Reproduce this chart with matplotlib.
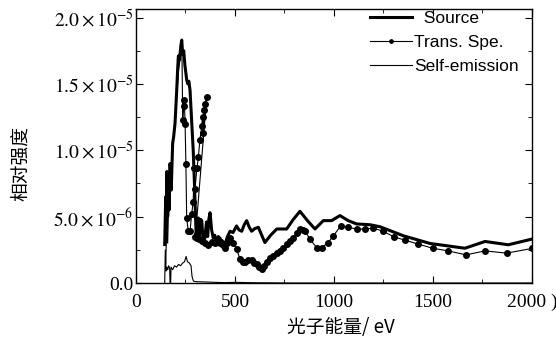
import numpy as np
import matplotlib.pyplot as plt
from matplotlib.ticker import MultipleLocator, FixedLocator

plt.rcParams['mathtext.fontset'] = 'stix'

# Source spectrum (eV, relative intensity)
src_e = [145, 150, 153, 156, 160, 163, 167, 172, 178, 185, 190, 197, 205, 210,
         214, 220, 226, 231, 236, 241, 247, 252, 256, 262, 267, 273, 280, 289,
         294, 298, 303, 306, 310, 315, 320, 326, 332, 340, 348, 356, 362, 368,
         374, 382, 390, 398, 407, 416, 425, 435, 449, 462, 475, 490, 508, 520,
         534, 547, 559, 572, 584, 600, 618, 635, 651, 680, 711, 761, 795, 828,
         866, 904, 946, 988, 1030, 1072, 1114, 1182, 1232, 1350, 1485, 1661,
         1763, 1880, 2000]
src_i = [2.9e-6, 6.5e-6, 4.0e-6, 8.4e-6, 5.0e-6, 7.5e-6, 5.5e-6, 9.0e-6, 7.0e-6,
         1.05e-5, 1.1e-5, 1.2e-5, 1.43e-5, 1.6e-5, 1.71e-5, 1.68e-5, 1.78e-5,
         1.83e-5, 1.72e-5, 1.75e-5, 1.64e-5, 1.58e-5, 1.53e-5, 1.50e-5, 1.52e-5,
         1.45e-5, 1.25e-5, 1.0e-5, 8.0e-6, 6.2e-6, 4.0e-6, 3.2e-6, 4.5e-6, 4.9e-6,
         3.5e-6, 4.8e-6, 4.7e-6, 3.0e-6, 3.4e-6, 4.6e-6, 3.5e-6, 4.8e-6, 5.3e-6,
         4.0e-6, 3.4e-6, 3.6e-6, 3.0e-6, 3.5e-6, 3.1e-6, 3.2e-6, 2.9e-6, 3.5e-6,
         3.9e-6, 3.8e-6, 4.3e-6, 4.0e-6, 3.9e-6, 4.4e-6, 4.7e-6, 4.2e-6, 3.9e-6,
         4.1e-6, 4.2e-6, 3.6e-6, 3.05e-6, 3.6e-6, 4.07e-6, 4.07e-6, 4.8e-6,
         5.4e-6, 4.7e-6, 4.07e-6, 4.7e-6, 4.7e-6, 5.08e-6, 4.7e-6, 4.45e-6,
         4.39e-6, 4.24e-6, 3.56e-6, 2.98e-6, 2.62e-6, 3.13e-6, 2.88e-6, 3.31e-6]

# Transmitted spectrum
trn_e = [150, 155, 160, 165, 175, 185, 195, 205, 215, 225, 232,
         236, 240, 244, 248, 252, 256, 264, 273, 281, 289, 293, 298, 308, 315,
         323, 332, 336, 340, 345, 349, 357, 300, 306, 320, 332, 350, 366, 383,
         399, 412, 424, 437, 449, 462, 475, 490, 508, 525, 538, 550, 566, 584,
         597, 609, 622, 635, 648, 660, 677, 694, 710, 727, 744, 761, 778, 795,
         811, 828, 841, 854, 879, 912, 938, 971, 997, 1034, 1072, 1114, 1156,
         1199, 1249, 1303, 1358, 1426, 1498, 1577, 1667, 1763, 1872, 1998]
trn_i = [1.5e-6, 4.0e-6, 3.0e-6, 6.0e-6, 8.0e-6, 1.0e-5, 1.2e-5, 1.4e-5, 1.6e-5,
         1.72e-5, 1.75e-5,
         1.23e-5, 1.33e-5, 1.38e-5, 1.2e-5, 9.0e-6, 4.9e-6, 3.9e-6, 3.9e-6,
         5.2e-6, 6.1e-6, 8.7e-6, 7.1e-6, 8.7e-6, 9.5e-6, 1.08e-5, 1.18e-5,
         1.25e-5, 1.13e-5, 1.3e-5, 1.35e-5, 1.4e-5, 3.5e-6, 3.7e-6, 3.3e-6,
         3.2e-6, 3.0e-6, 2.9e-6, 3.1e-6, 3.05e-6, 3.3e-6, 3.05e-6, 2.9e-6,
         2.67e-6, 3.0e-6, 3.4e-6, 3.0e-6, 2.57e-6, 1.8e-6, 1.6e-6, 1.6e-6,
         1.7e-6, 1.7e-6, 1.5e-6, 1.4e-6, 1.2e-6, 1.05e-6, 1.3e-6, 1.6e-6,
         1.85e-6, 2.05e-6, 2.25e-6, 2.4e-6, 2.65e-6, 2.93e-6, 3.15e-6, 3.4e-6,
         3.75e-6, 4.07e-6, 4.0e-6, 3.9e-6, 3.3e-6, 2.67e-6, 2.67e-6, 3.05e-6,
         3.56e-6, 4.3e-6, 4.2e-6, 4.07e-6, 4.07e-6, 4.14e-6, 3.89e-6, 3.48e-6,
         3.23e-6, 2.93e-6, 2.62e-6, 2.42e-6, 2.12e-6, 2.42e-6, 2.25e-6, 2.6e-6]

# Self-emission
se_e = [145, 148, 152, 156, 160, 165, 170, 172, 175, 177, 185, 195, 205, 215,
        225, 235, 245, 253, 260, 270, 278, 283, 290, 300, 350, 400, 450, 500,
        600, 800, 1000, 1500, 2000]
se_i = [0.0, 2.5e-6, 0.9e-6, 1.2e-6, 1.0e-6, 1.3e-6, 1.1e-6, 0.0, 0.0, 1.2e-6,
        1.0e-6, 1.3e-6, 1.2e-6, 1.4e-6, 1.3e-6, 1.5e-6, 1.6e-6, 2.0e-6, 1.6e-6,
        1.5e-6, 1.3e-6, 0.5e-6, 0.15e-6, 0.1e-6, 0.08e-6, 0.05e-6, 0.03e-6,
        0.05e-6, 0.02e-6, 0.0, 0.0, 0.0, 0.0]

xticks = [0, 500, 1000, 1500, 2000]
xtick_labels = ['0', '500', '1000', '1500', '2000 )']
yticks = [0.0, 5.0e-6, 1.0e-5, 1.5e-5, 2.0e-5]
ytick_labels = ['0.0', r'$5.0\times10^{-6}$', r'$1.0\times10^{-5}$',
                r'$1.5\times10^{-5}$', r'$2.0\times10^{-5}$']

fig = plt.figure(figsize=(5.56, 3.4), dpi=100)
ax = fig.add_axes([0.2446, 0.1676, 0.7122, 0.8059])

ax.plot(src_e, src_i, color='black', lw=2.2, label='Source')
ax.plot(trn_e, trn_i, color='black', lw=0.8, marker='o', ms=4,
        markevery=list(range(11, len(trn_e))), label='Trans. Spe.')
ax.plot(se_e, se_i, color='black', lw=0.8, label='Self-emission')

ax.set_xlim(0, 2000)
ax.set_ylim(0, 2.064e-5)
ax.xaxis.set_major_locator(FixedLocator(xticks))
ax.xaxis.set_minor_locator(MultipleLocator(250))
ax.set_xticklabels(xtick_labels)
ax.yaxis.set_major_locator(FixedLocator(yticks))
ax.yaxis.set_minor_locator(MultipleLocator(2.5e-6))
ax.set_yticklabels(ytick_labels)
ax.tick_params(which='both', direction='in', top=True, right=True,
               labelsize=14)
ax.tick_params(axis='y', pad=2)
ax.tick_params(axis='x', pad=8)
ax.tick_params(which='major', length=5)
ax.tick_params(which='minor', length=3)
for lb in ax.get_xticklabels() + ax.get_yticklabels():
    lb.set_family('Liberation Serif')
for s in ax.spines.values():
    s.set_linewidth(1.0)

fig.text(341 / 556, 1 - 328 / 340, '光子能量/ eV', fontsize=13.5,
         family=['Noto Sans CJK SC', 'DejaVu Sans'], ha='center', va='center')
fig.text(20 / 556, 1 - 163 / 340, '相对强度', fontsize=13.5, rotation=90,
         family='Noto Sans CJK SC', ha='center', va='center')

leg = ax.legend(loc='upper left', bbox_to_anchor=(370 / 556, 1 - 11 / 340),
                bbox_transform=fig.transFigure, frameon=False, borderpad=0,
                borderaxespad=0, handlelength=2.4, handletextpad=0.15,
                labelspacing=0.5, markerscale=0.6,
                prop={'family': 'Liberation Sans', 'size': 12.5})
leg.get_texts()[0].set_text('  Source')

fig.savefig('out.png', dpi=100)
